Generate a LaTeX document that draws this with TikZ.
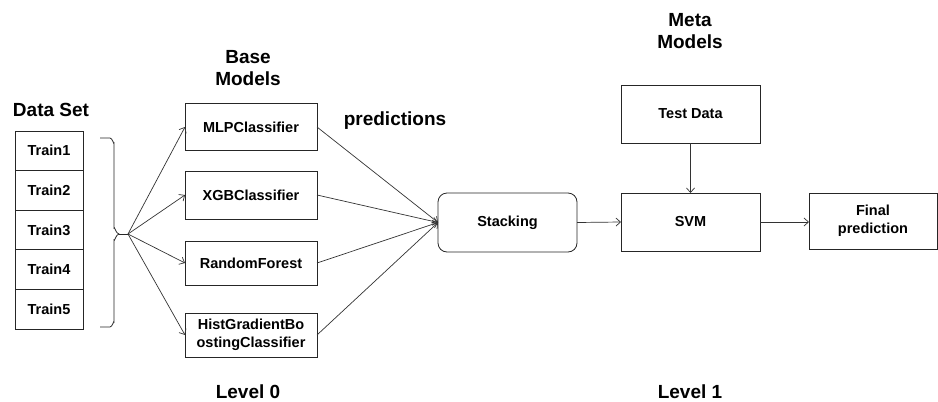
\documentclass[tikz,border=0pt]{standalone}
\usepackage{fontspec}
\setmainfont{Liberation Sans}
\usetikzlibrary{arrows.meta}
\begin{document}
\begin{tikzpicture}[x=1pt,y=-1pt,
  line width=0.8pt,
  box/.style={draw=black!85, rectangle, inner sep=0pt, outer sep=0pt, align=center,
    font=\fontsize{14.5}{18}\selectfont\bfseries},
  title/.style={inner sep=0pt, align=center, font=\fontsize{19}{21.5}\selectfont\bfseries},
  arr/.style={draw=black!80, line width=0.7pt, -{Straight Barb[length=4.5pt,width=8pt]}}
]
\useasboundingbox (0,0) rectangle (938,402);
% titles
\node[title] (tds) at (51,110) {Data Set};
\node[title] (tbase) at (248,68) {Base\\Models};
\node[title] (tpred) at (395,121) {predictions};
\node[title] (tmeta) at (690,31) {Meta\\Models};
\node[title] (tl0) at (248,392) {Level 0};
\node[title] (tl1) at (690,392) {Level 1};
% data set
\node[box, minimum width=68pt, minimum height=39.6pt] (t1) at (49,150.8) {Train1};
\node[box, minimum width=68pt, minimum height=39.6pt] (t2) at (49,190.4) {Train2};
\node[box, minimum width=68pt, minimum height=39.6pt] (t3) at (49,230) {Train3};
\node[box, minimum width=68pt, minimum height=39.6pt] (t4) at (49,269.6) {Train4};
\node[box, minimum width=68pt, minimum height=39.6pt] (t5) at (49,309.2) {Train5};
% brace
\coordinate (btip) at (119,234);
\coordinate (fan) at (128,234);
\draw[black!85] (100,138) -- (110,138) to[out=0,in=-90] (114,143) -- (114,228)
  to[out=90,in=180] (btip) to[out=180,in=-90] (114,240) -- (114,322)
  to[out=90,in=0] (110,327) -- (100,327);
\draw[black!85] (btip) -- (fan);
% base models
\node[box, minimum width=132pt, minimum height=47pt] (mlp) at (251,127) {MLPClassifier};
\node[box, minimum width=132pt, minimum height=48pt] (xgb) at (251,195) {XGBClassifier};
\node[box, minimum width=132pt, minimum height=44pt] (rf) at (251,263) {RandomForest};
\node[box, minimum width=132pt, minimum height=44pt] (hgb) at (251,335) {HistGradientBo\\ostingClassifier};
\draw[arr] (fan) -- (mlp.west);
\draw[arr] (fan) -- (xgb.west);
\draw[arr] (fan) -- (rf.west);
\draw[arr] (fan) -- (hgb.west);
% stacking
\node[box, rounded corners=9pt, minimum width=139pt, minimum height=59pt] (stk) at (507.5,222.5) {Stacking};
\draw[arr] (mlp.east) -- (stk.west);
\draw[arr] (xgb.east) -- (stk.west);
\draw[arr] (rf.east) -- (stk.west);
\draw[arr] (hgb.east) -- (stk.west);
% meta
\node[box, minimum width=139pt, minimum height=58pt] (test) at (690.5,114) {Test Data};
\node[box, minimum width=139pt, minimum height=58pt] (svm) at (690.5,222) {SVM};
\node[box, minimum width=128pt, minimum height=56pt] (fin) at (873,221) {Final\\prediction};
\draw[arr] (stk.east) -- (svm.west);
\draw[arr] (test.south) -- (svm.north);
\draw[arr] (svm.east) -- (fin.west |- svm.east);
\end{tikzpicture}
\end{document}
